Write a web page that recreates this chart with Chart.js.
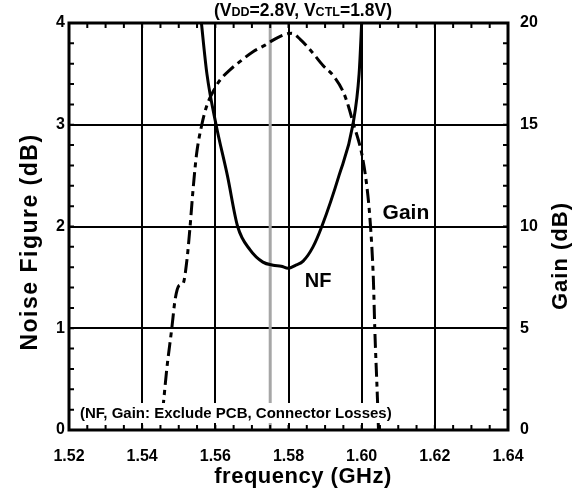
<!DOCTYPE html>
<html>
<head>
<meta charset="utf-8">
<script src="https://cdn.jsdelivr.net/npm/chart.js@4.4.0/dist/chart.umd.min.js"></script>
<style>
  html, body { margin: 0; padding: 0; background: #fff; }
  #wrap { width: 576px; height: 494px; }
</style>
</head>
<body>
<div id="wrap"><canvas id="mainChart" width="576" height="494"></canvas></div>
<script>
// NF (dB), left axis
const nfFreq = [1.5555, 1.5562, 1.5577, 1.5602, 1.5633, 1.5661, 1.5695, 1.5730, 1.5758, 1.5780, 1.5799, 1.5820, 1.5840, 1.5867, 1.5891, 1.5938, 1.5976, 1.5993, 1.6000, 1.6003];
const nfValues = [4.25, 4.0, 3.5, 3.0, 2.5, 2.0, 1.77, 1.65, 1.62, 1.61, 1.59, 1.62, 1.66, 1.80, 2.0, 2.5, 3.0, 3.5, 4.0, 4.25];

// Gain (dB), right axis
const gainFreq = [1.5455, 1.5458, 1.5467, 1.5481, 1.5490, 1.5501, 1.5512, 1.5522, 1.5530, 1.5540, 1.5549, 1.5563, 1.5576, 1.5599, 1.5613, 1.5640, 1.5667, 1.5704, 1.5735, 1.5758, 1.5786, 1.5809, 1.5832, 1.5863, 1.5895, 1.5923, 1.5950, 1.5964, 1.5977, 1.5991, 1.6000, 1.6014, 1.6023, 1.6032, 1.6036, 1.6043, 1.6046];
const gainValues = [0.8, 1.3, 2.95, 5.0, 6.4, 7.1, 7.2, 8.3, 9.8, 12.0, 13.6, 15.0, 15.9, 16.8, 17.2, 17.7, 18.1, 18.6, 18.9, 19.16, 19.41, 19.5, 19.2, 18.6, 17.9, 17.4, 16.6, 15.9, 15.07, 14.25, 13.6, 12.0, 10.3, 7.4, 4.9, 1.6, 0];

const markerFreq = 1.575;
const FONT = "'Liberation Sans', Arial, sans-serif";

function toPoints(xs, ys) {
  return xs.map((x, i) => ({ x: x, y: ys[i] }));
}

function boxedText(ctx, text, cx, cy, align) {
  const w = ctx.measureText(text).width;
  const left = align === "left" ? cx : cx - w / 2;
  ctx.fillStyle = "#fff";
  ctx.fillRect(left - 3, cy - 10, w + 6, 20);
  ctx.fillStyle = "#000";
  ctx.textAlign = "left";
  ctx.textBaseline = "middle";
  ctx.fillText(text, left, cy + 1);
}

const decorPlugin = {
  id: "decor",
  beforeDatasetsDraw(chart) {
    const { ctx, chartArea: a, scales } = chart;
    const gx = scales.x.getPixelForValue(markerFreq);
    ctx.save();
    ctx.strokeStyle = "#a6a6a6";
    ctx.lineWidth = 3;
    ctx.beginPath();
    ctx.moveTo(gx, a.top);
    ctx.lineTo(gx, a.bottom);
    ctx.stroke();
    ctx.restore();
  },
  afterDatasetsDraw(chart) {
    const { ctx, chartArea: a, scales } = chart;
    const x = scales.x, y = scales.y;
    ctx.save();

    // annotation box
    ctx.font = "bold 15px " + FONT;
    boxedText(ctx, "(NF, Gain: Exclude PCB, Connector Losses)", x.getPixelForValue(1.523), y.getPixelForValue(0.167), "left");

    // series labels
    ctx.font = "bold 21px " + FONT;
    boxedText(ctx, "Gain", x.getPixelForValue(1.6121), y.getPixelForValue(2.14), "center");
    ctx.font = "bold 20px " + FONT;
    ctx.textAlign = "center";
    ctx.fillText("NF", x.getPixelForValue(1.5881), y.getPixelForValue(1.46));

    // minor ticks inside the frame
    ctx.strokeStyle = "#000";
    ctx.lineWidth = 2;
    ctx.beginPath();
    for (let f = 1.52; f < 1.6401; f += 0.005) {
      const px = x.getPixelForValue(f);
      ctx.moveTo(px, a.top); ctx.lineTo(px, a.top + 5);
      ctx.moveTo(px, a.bottom); ctx.lineTo(px, a.bottom - 5);
    }
    for (let v = 0; v <= 4.001; v += 0.2) {
      const py = y.getPixelForValue(v);
      ctx.moveTo(a.left, py); ctx.lineTo(a.left + 5, py);
      ctx.moveTo(a.right, py); ctx.lineTo(a.right - 5, py);
    }
    ctx.stroke();

    // frame
    ctx.lineWidth = 3;
    ctx.strokeRect(a.left, a.top, a.right - a.left, a.bottom - a.top);

    // axis titles
    ctx.fillStyle = "#000";
    ctx.textBaseline = "middle";
    ctx.textAlign = "center";
    ctx.font = "bold 22px " + FONT;
    ctx.letterSpacing = "0.5px";
    ctx.fillText("frequency (GHz)", 303, 477);

    ctx.save();
    ctx.translate(31, 242);
    ctx.rotate(-Math.PI / 2);
    ctx.font = "bold 23px " + FONT;
    ctx.letterSpacing = "1.5px";
    ctx.fillText("Noise Figure (dB)", 0, 0);
    ctx.restore();

    ctx.save();
    ctx.translate(561, 256);
    ctx.rotate(-Math.PI / 2);
    ctx.font = "bold 22px " + FONT;
    ctx.letterSpacing = "1px";
    ctx.fillText("Gain (dB)", 0, 0);
    ctx.restore();
    ctx.letterSpacing = "0px";

    // top condition line with small-cap subscripts
    const parts = [
      ["(V", 17.5], ["DD", 12.5], ["=2.8V, V", 17.5], ["CTL", 12.5], ["=1.8V)", 17.5]
    ];
    let total = 0;
    parts.forEach((p) => {
      ctx.font = "bold " + p[1] + "px " + FONT;
      total += ctx.measureText(p[0]).width;
    });
    let tx = 303 - total / 2;
    ctx.textAlign = "left";
    ctx.textBaseline = "alphabetic";
    parts.forEach((p) => {
      ctx.font = "bold " + p[1] + "px " + FONT;
      ctx.fillText(p[0], tx, 15.5);
      tx += ctx.measureText(p[0]).width;
    });

    ctx.restore();
  }
};

Chart.defaults.font.family = FONT;
Chart.defaults.color = "#000";

new Chart(document.getElementById("mainChart").getContext("2d"), {
  type: "line",
  data: {
    datasets: [
      {
        label: "NF",
        data: toPoints(nfFreq, nfValues),
        borderColor: "#000",
        borderWidth: 3,
        pointRadius: 0,
        cubicInterpolationMode: "monotone",
        yAxisID: "y",
      },
      {
        label: "Gain",
        data: toPoints(gainFreq, gainValues),
        borderColor: "#000",
        borderWidth: 3,
        borderDash: [14, 5, 5, 5],
        pointRadius: 0,
        cubicInterpolationMode: "monotone",
        yAxisID: "y1",
      },
    ],
  },
  options: {
    responsive: false,
    animation: false,
    layout: { padding: { top: 23, left: 0, right: 0, bottom: 0 } },
    plugins: { legend: { display: false }, tooltip: { enabled: false } },
    scales: {
      x: {
        type: "linear",
        min: 1.52,
        max: 1.64,
        afterFit: (s) => { s.height = 64; },
        afterBuildTicks: (s) => {
          s.ticks = [1.52, 1.54, 1.56, 1.58, 1.60, 1.62, 1.64].map((v) => ({ value: v }));
        },
        ticks: {
          callback: (v) => Number(v).toFixed(2),
          font: { size: 16, weight: "bold" },
          padding: 17,
          maxRotation: 0,
        },
        grid: { color: "#000", lineWidth: 2, drawTicks: false },
        border: { display: false },
      },
      y: {
        position: "left",
        min: 0,
        max: 4,
        afterFit: (s) => { s.width = 69; },
        ticks: { stepSize: 1, font: { size: 16, weight: "bold" }, padding: 4 },
        grid: { color: "#000", lineWidth: 2, drawTicks: false },
        border: { display: false },
      },
      y1: {
        position: "right",
        min: 0,
        max: 20,
        afterFit: (s) => { s.width = 68; },
        ticks: { stepSize: 5, font: { size: 16, weight: "bold" }, padding: 12 },
        grid: { drawOnChartArea: false, drawTicks: false },
        border: { display: false },
      },
    },
  },
  plugins: [decorPlugin],
});
</script>
</body>
</html>
